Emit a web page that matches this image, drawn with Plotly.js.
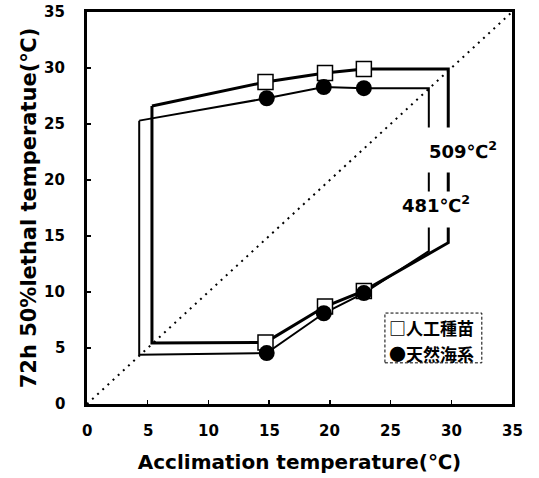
<!DOCTYPE html>
<html>
<head>
<meta charset="utf-8">
<script src="https://cdn.plot.ly/plotly-3.0.1.min.js"></script>
<style>html,body{margin:0;padding:0;background:#fff;}#chart{width:539px;height:478px;}</style>
</head>
<body>
<div id="chart"></div>
<script>
// Series names
const seriesNames = ["人工種苗", "天然海系"];
// 人工種苗 (open squares): acclimation temperature and upper/lower 50% lethal temperatures
const sqX = [14.7, 19.6, 22.8];
const sqUpper = [28.75, 29.55, 29.9];
const sqLower = [5.5, 8.7, 10.1];
// 天然海系 (filled circles)
const ciX = [14.8, 19.5, 22.8];
const ciUpper = [27.3, 28.3, 28.2];
const ciLower = [4.55, 8.1, 9.9];
// Tolerance polygon extensions (left and right ends)
const sqLeftX = 5.35, sqLeftUpper = 26.6, sqLeftLower = 5.45;
const sqRightX = 29.75, sqRightUpper = 29.9, sqRightLower = 14.4;
const ciLeftX = 4.3, ciLeftUpper = 25.3, ciLeftLower = 4.4;
const ciRightX = 28.15, ciRightUpper = 28.2, ciRightLower = 13.65;
// Polygon areas
const areaLabels = ["509℃<sup>2</sup>", "481℃<sup>2</sup>"];
// Diagonal reference line
const diagX = [0, 35];
const diagY = [0, 35];
// Ticks
const tickVals = [0, 5, 10, 15, 20, 25, 30, 35];
const tickText = ["0", "5", "10", "15", "20", "25", "30", "35"];

function polygon(x, upper, lower, lx, lu, ll, rx, ru, rl) {
  const px = [lx].concat(x, [rx, rx], x.slice().reverse(), [lx, lx]);
  const py = [lu].concat(upper, [ru, rl], lower.slice().reverse(), [ll, lu]);
  return {px, py};
}
const sqPoly = polygon(sqX, sqUpper, sqLower, sqLeftX, sqLeftUpper, sqLeftLower, sqRightX, sqRightUpper, sqRightLower);
const ciPoly = polygon(ciX, ciUpper, ciLower, ciLeftX, ciLeftUpper, ciLeftLower, ciRightX, ciRightUpper, ciRightLower);

const TICKFONT = "DejaVu Sans, sans-serif";
const TITLEFONT = "DejaVu Sans, Liberation Sans, sans-serif";
const CJK = "Noto Sans CJK JP, sans-serif";
const b = s => "<b>" + s + "</b>";

const traces = [
  {x: diagX, y: diagY, mode: "lines", line: {color: "#000", width: 2, dash: "2px,5px"}, hoverinfo: "skip", showlegend: false},
  {x: ciPoly.px, y: ciPoly.py, mode: "lines", line: {color: "#000", width: 2}, showlegend: false},
  {x: sqPoly.px, y: sqPoly.py, mode: "lines", line: {color: "#000", width: 3}, showlegend: false},
  {x: sqX.concat(sqX), y: sqUpper.concat(sqLower), mode: "markers", name: seriesNames[0],
   marker: {symbol: "square", size: 15, color: "#fff", line: {color: "#000", width: 1.5}}, showlegend: false},
  {x: ciX.concat(ciX), y: ciUpper.concat(ciLower), mode: "markers", name: seriesNames[1],
   marker: {symbol: "circle", size: 16, color: "#000", line: {color: "#000", width: 0}}, showlegend: false}
];

const axisCommon = {
  range: [0, 35], tickvals: tickVals,
  ticks: "inside", ticklen: 4, tickwidth: 1.5, tickcolor: "#000",
  showticklabels: false,
  showline: true, mirror: true, linewidth: 3, linecolor: "#000",
  showgrid: false, zeroline: false
};

const tickFont = {family: TICKFONT, size: 15, color: "#000"};
const tickAnnots = [];
tickVals.forEach((v, i) => {
  tickAnnots.push({x: v, y: 0, xref: "x", yref: "paper", xanchor: "center", yanchor: "top",
    yshift: -17, text: b(tickText[i]), showarrow: false, font: tickFont, borderpad: 0});
  tickAnnots.push({x: 0, y: v, xref: "paper", yref: "y", xanchor: "right", yanchor: "middle",
    xshift: -21, text: b(tickText[i]), showarrow: false, font: tickFont, borderpad: 0});
});

const layout = {
  width: 539, height: 478,
  margin: {l: 87, r: 27, t: 12, b: 74},
  paper_bgcolor: "#fff", plot_bgcolor: "#fff",
  showlegend: false,
  xaxis: Object.assign({}, axisCommon, {
    title: {text: b("Acclimation temperature(℃)"), standoff: 49,
            font: {family: TITLEFONT, size: 20, color: "#000"}}
  }),
  yaxis: Object.assign({}, axisCommon, {
    title: {text: b("72h 50%lethal temperatue(℃)"), standoff: 42,
            font: {family: TITLEFONT, size: 21, color: "#000"}}
  }),
  shapes: [
    {type: "rect", xref: "paper", yref: "paper", x0: 0.701, x1: 0.929, y0: 0.105, y1: 0.232,
     line: {color: "#000", width: 1, dash: "3px,2px"}, fillcolor: "rgba(0,0,0,0)", layer: "below"}
  ],
  annotations: [
    {x: 31.0, y: 22.7, xref: "x", yref: "y", text: b(areaLabels[0]), showarrow: false,
     width: 80, height: 44, bgcolor: "#fff", borderpad: 0,
     font: {family: TITLEFONT, size: 18, color: "#000"}},
    {x: 28.7, y: 17.4, xref: "x", yref: "y", text: b(areaLabels[1]), showarrow: false,
     width: 74, height: 35, valign: "top", bgcolor: "#fff", borderpad: 0,
     font: {family: TITLEFONT, size: 18, color: "#000"}},
    {x: 0.706, y: 0.194, xref: "paper", yref: "paper", xanchor: "left", yanchor: "middle",
     text: b("□" + seriesNames[0]), showarrow: false,
     font: {family: CJK, size: 17, color: "#000"}},
    {x: 0.706, y: 0.130, xref: "paper", yref: "paper", xanchor: "left", yanchor: "middle",
     text: b("●" + seriesNames[1]), showarrow: false,
     font: {family: CJK, size: 17, color: "#000"}}
  ].concat(tickAnnots)
};

Plotly.newPlot("chart", traces, layout, {displayModeBar: false, staticPlot: true});
</script>
</body>
</html>
